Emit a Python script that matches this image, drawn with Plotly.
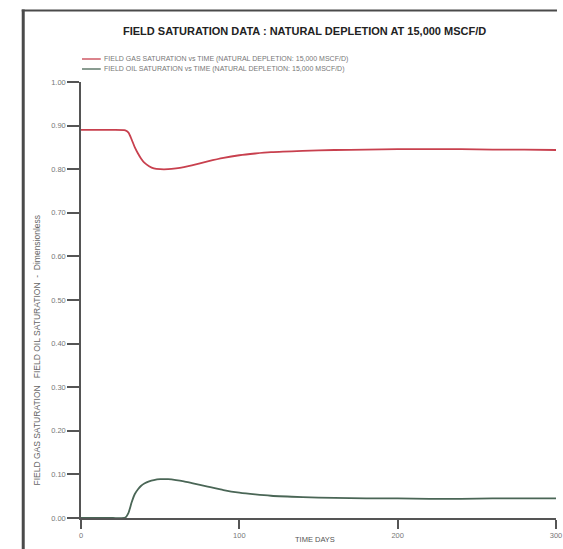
import plotly.graph_objects as go

# Simulated field saturations, natural depletion case
days = [0, 10, 20, 28, 30, 32, 34, 36, 38, 40, 43, 46, 50, 55, 60, 65, 70,
        80, 90, 100, 110, 120, 140, 160, 180, 200, 220, 240, 260, 280, 300]
gas_sat = [0.890, 0.890, 0.890, 0.889, 0.884, 0.868, 0.850, 0.836, 0.824, 0.815,
           0.807, 0.802, 0.800, 0.800, 0.802, 0.805, 0.809, 0.818, 0.826, 0.832,
           0.836, 0.839, 0.842, 0.844, 0.845, 0.846, 0.846, 0.846, 0.845, 0.845, 0.844]
oil_sat = [0.000, 0.000, 0.000, 0.001, 0.012, 0.036, 0.055, 0.066, 0.074, 0.079,
           0.084, 0.087, 0.089, 0.089, 0.087, 0.084, 0.080, 0.072, 0.064, 0.058,
           0.054, 0.051, 0.048, 0.046, 0.045, 0.045, 0.044, 0.044, 0.045, 0.045, 0.045]

x_ticks = [0, 100, 200, 300]
y_ticks = [round(0.1 * i, 2) for i in range(11)]

title_text = "FIELD SATURATION DATA : NATURAL DEPLETION AT 15,000 MSCF/D"
legend_labels = [
    "FIELD GAS SATURATION vs TIME (NATURAL DEPLETION: 15,000 MSCF/D)",
    "FIELD OIL SATURATION vs TIME (NATURAL DEPLETION: 15,000 MSCF/D)",
]
y_title = "FIELD GAS SATURATION   FIELD OIL SATURATION  -  Dimensionless"
x_title = "TIME DAYS"

RED = "#c8404e"
GREEN = "#4a6656"
AXIS = "#555555"
FONT = "Liberation Sans, Arial, sans-serif"

W, H = 563, 549
ML, MR, MT, MB = 81, 1, 82, 31
PW, PH = W - ML - MR, H - MT - MB


def px_x(px):
    return (px - ML) / PW


def px_y(py):
    return (H - MB - py) / PH


fig = go.Figure()
fig.add_trace(go.Scatter(x=days, y=gas_sat, mode="lines", line=dict(color=RED, width=1.8, shape="spline", smoothing=0.6),
                         name=legend_labels[0], showlegend=False))
fig.add_trace(go.Scatter(x=days, y=oil_sat, mode="lines", line=dict(color=GREEN, width=1.8, shape="spline", smoothing=0.6),
                         name=legend_labels[1], showlegend=False))

annotations = [
    dict(text="<b>" + title_text + "</b>", x=px_x(307), y=px_y(31), xref="paper", yref="paper",
         showarrow=False, font=dict(family=FONT, size=11, color="#222222"), xanchor="center", yanchor="middle"),
    dict(text=y_title, x=px_x(36), y=px_y(350), xref="paper", yref="paper", textangle=-90,
         showarrow=False, font=dict(family=FONT, size=8.5, color="#666666"), xanchor="center", yanchor="middle"),
    dict(text=x_title, x=px_x(318), y=px_y(539), xref="paper", yref="paper",
         showarrow=False, font=dict(family=FONT, size=7.5, color="#555555"), xanchor="center", yanchor="middle"),
]
shapes = []
for i, (lab, col) in enumerate(zip(legend_labels, [RED, GREEN])):
    yy = px_y(59 + 10 * i)
    shapes.append(dict(type="line", xref="paper", yref="paper", x0=px_x(82), x1=px_x(101), y0=yy, y1=yy,
                       line=dict(color=col, width=1.3)))
    annotations.append(dict(text=lab, x=px_x(102), y=yy, xref="paper", yref="paper", showarrow=False,
                            font=dict(family=FONT, size=7, color="#777777"), xanchor="left", yanchor="middle"))

# outer frame of the page: left edge and top edge
shapes.append(dict(type="line", xref="paper", yref="paper", x0=px_x(22.5), x1=px_x(22.5), y0=px_y(9.5), y1=px_y(549),
                   line=dict(color="#4a4a4a", width=3)))
shapes.append(dict(type="line", xref="paper", yref="paper", x0=px_x(21), x1=px_x(563), y0=px_y(10.5), y1=px_y(10.5),
                   line=dict(color="#4a4a4a", width=2)))

fig.update_layout(
    width=W, height=H,
    margin=dict(l=ML, r=MR, t=MT, b=MB, pad=0),
    paper_bgcolor="white", plot_bgcolor="white",
    annotations=annotations, shapes=shapes,
    xaxis=dict(range=[0, 300], tickvals=x_ticks, ticktext=[str(v) for v in x_ticks],
               showgrid=False, zeroline=False,
               showline=True, linecolor=AXIS, linewidth=1.5,
               ticks="outside", ticklen=9, tickwidth=1.5, tickcolor=AXIS,
               ticklabeloverflow="allow",
               tickfont=dict(family=FONT, size=7.5, color="#777777")),
    yaxis=dict(range=[0, 1.0], tickvals=y_ticks, ticktext=[f"{v:.2f}" for v in y_ticks],
               showgrid=False, zeroline=False,
               showline=True, linecolor=AXIS, linewidth=1.5,
               ticks="outside", ticklen=12, tickwidth=1.5, tickcolor=AXIS,
               tickfont=dict(family=FONT, size=7.5, color="#777777")),
)

fig.write_html("out.html")
